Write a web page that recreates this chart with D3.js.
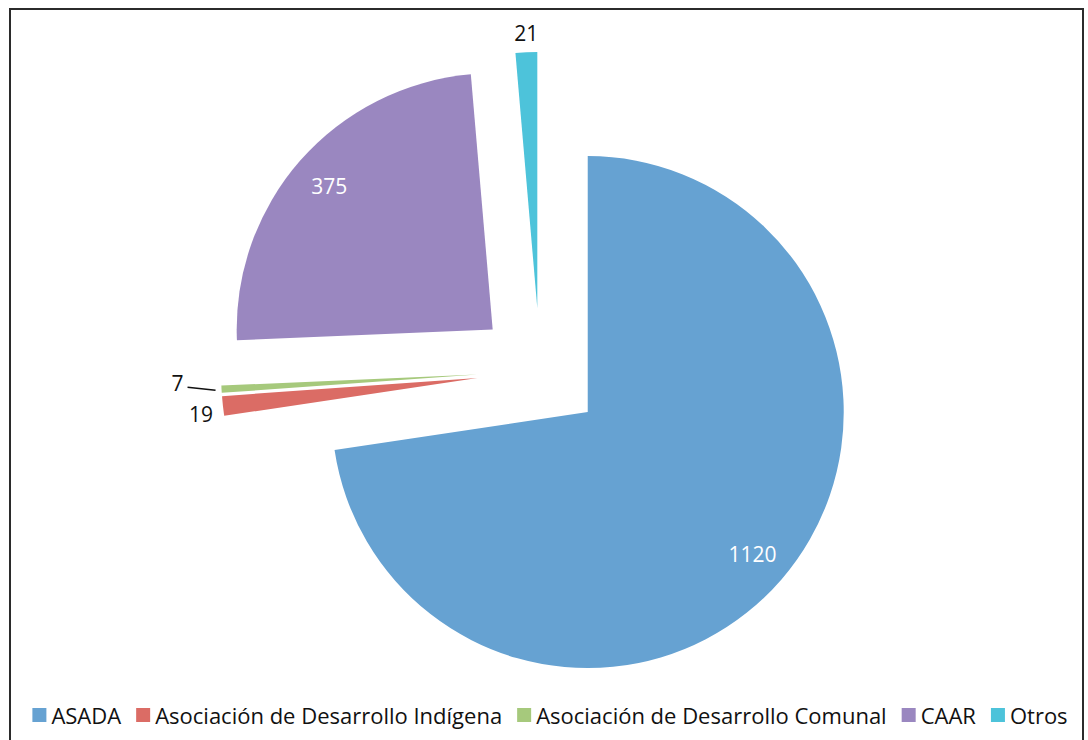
<!DOCTYPE html>
<html>
<head>
<meta charset="utf-8">
<script src="https://cdn.jsdelivr.net/npm/d3@7"></script>
<style>
  html, body { margin: 0; padding: 0; background: #fff; }
  svg { display: block; }
  text { font-family: "Open Sans", "Liberation Sans", sans-serif; }
</style>
</head>
<body>
<svg id="chart" width="1088" height="740"></svg>
<script>
// Organisations operating water systems (counts)
const categories = ["ASADA", "Asociación de Desarrollo Indígena", "Asociación de Desarrollo Comunal", "CAAR", "Otros"];
const values = [1120, 19, 7, 375, 21];
const colors = ["#66a2d2", "#db6c65", "#a6c97c", "#9a87c0", "#4dc3da"];
const labelInside = [true, false, false, true, false];

const svg = d3.select("#chart");
const W = 1088, H = 740;

// frame
svg.append("rect")
  .attr("x", 10).attr("y", 9)
  .attr("width", 1073).attr("height", 745)
  .attr("fill", "none").attr("stroke", "#2b2b2b").attr("stroke-width", 2);

const cx = 540, cy = 371;
const radius = 256;
const explode = 63;

const pie = d3.pie().sort(null).value(d => d);
const arcs = pie(values);
const arc = d3.arc().innerRadius(0).outerRadius(radius);

const g = svg.append("g").attr("transform", `translate(${cx},${cy})`);

function dir(a) { return [Math.sin(a), -Math.cos(a)]; }

const slices = g.selectAll("g.slice").data(arcs).enter().append("g")
  .attr("class", "slice")
  .attr("transform", d => {
    const m = (d.startAngle + d.endAngle) / 2;
    const [dx, dy] = dir(m);
    return `translate(${dx * explode},${dy * explode})`;
  });

slices.append("path")
  .attr("d", arc)
  .attr("fill", (d, i) => colors[i]);

// value labels
arcs.forEach((d, i) => {
  const m = (d.startAngle + d.endAngle) / 2;
  const [dx, dy] = dir(m);
  const ox = dx * explode, oy = dy * explode;
  if (labelInside[i]) {
    const r = radius * 0.85;
    g.append("text")
      .attr("x", ox + dx * r).attr("y", oy + dy * r)
      .attr("text-anchor", "middle").attr("dominant-baseline", "central")
      .attr("fill", "#ffffff").attr("font-size", 21)
      .text(values[i]);
  } else {
    const px = ox + dx * radius, py = oy + dy * radius;
    if (categories[i] === "Otros") {
      g.append("text")
        .attr("x", px).attr("y", py - 19)
        .attr("text-anchor", "middle").attr("dominant-baseline", "central")
        .attr("fill", "#111").attr("font-size", 21)
        .text(values[i]);
    } else if (categories[i] === "Asociación de Desarrollo Comunal") {
      g.append("line")
        .attr("x1", px - 6).attr("y1", py + 1)
        .attr("x2", px - 34).attr("y2", py - 2)
        .attr("stroke", "#111").attr("stroke-width", 1.5);
      g.append("text")
        .attr("x", px - 38).attr("y", py - 6)
        .attr("text-anchor", "end").attr("dominant-baseline", "central")
        .attr("fill", "#111").attr("font-size", 21)
        .text(values[i]);
    } else {
      g.append("text")
        .attr("x", px - 10).attr("y", py + 8)
        .attr("text-anchor", "end").attr("dominant-baseline", "central")
        .attr("fill", "#111").attr("font-size", 21)
        .text(values[i]);
    }
  }
});

// legend
const legend = svg.append("g");
const sq = 14, gapSq = 5, gapItem = 15;
const items = legend.selectAll("g").data(categories).enter().append("g");
items.append("rect")
  .attr("width", sq).attr("height", sq)
  .attr("y", -sq / 2)
  .attr("fill", (d, i) => colors[i]);
items.append("text")
  .attr("x", sq + gapSq)
  .attr("dominant-baseline", "central")
  .attr("font-size", 22).attr("fill", "#111")
  .text(d => d);
let xpos = 0;
items.each(function () {
  const w = sq + gapSq + this.querySelector("text").getComputedTextLength();
  d3.select(this).attr("transform", `translate(${xpos},0)`);
  xpos += w + gapItem;
});
const total = xpos - gapItem;
legend.attr("transform", `translate(${550 - total / 2},715)`);
</script>
</body>
</html>
